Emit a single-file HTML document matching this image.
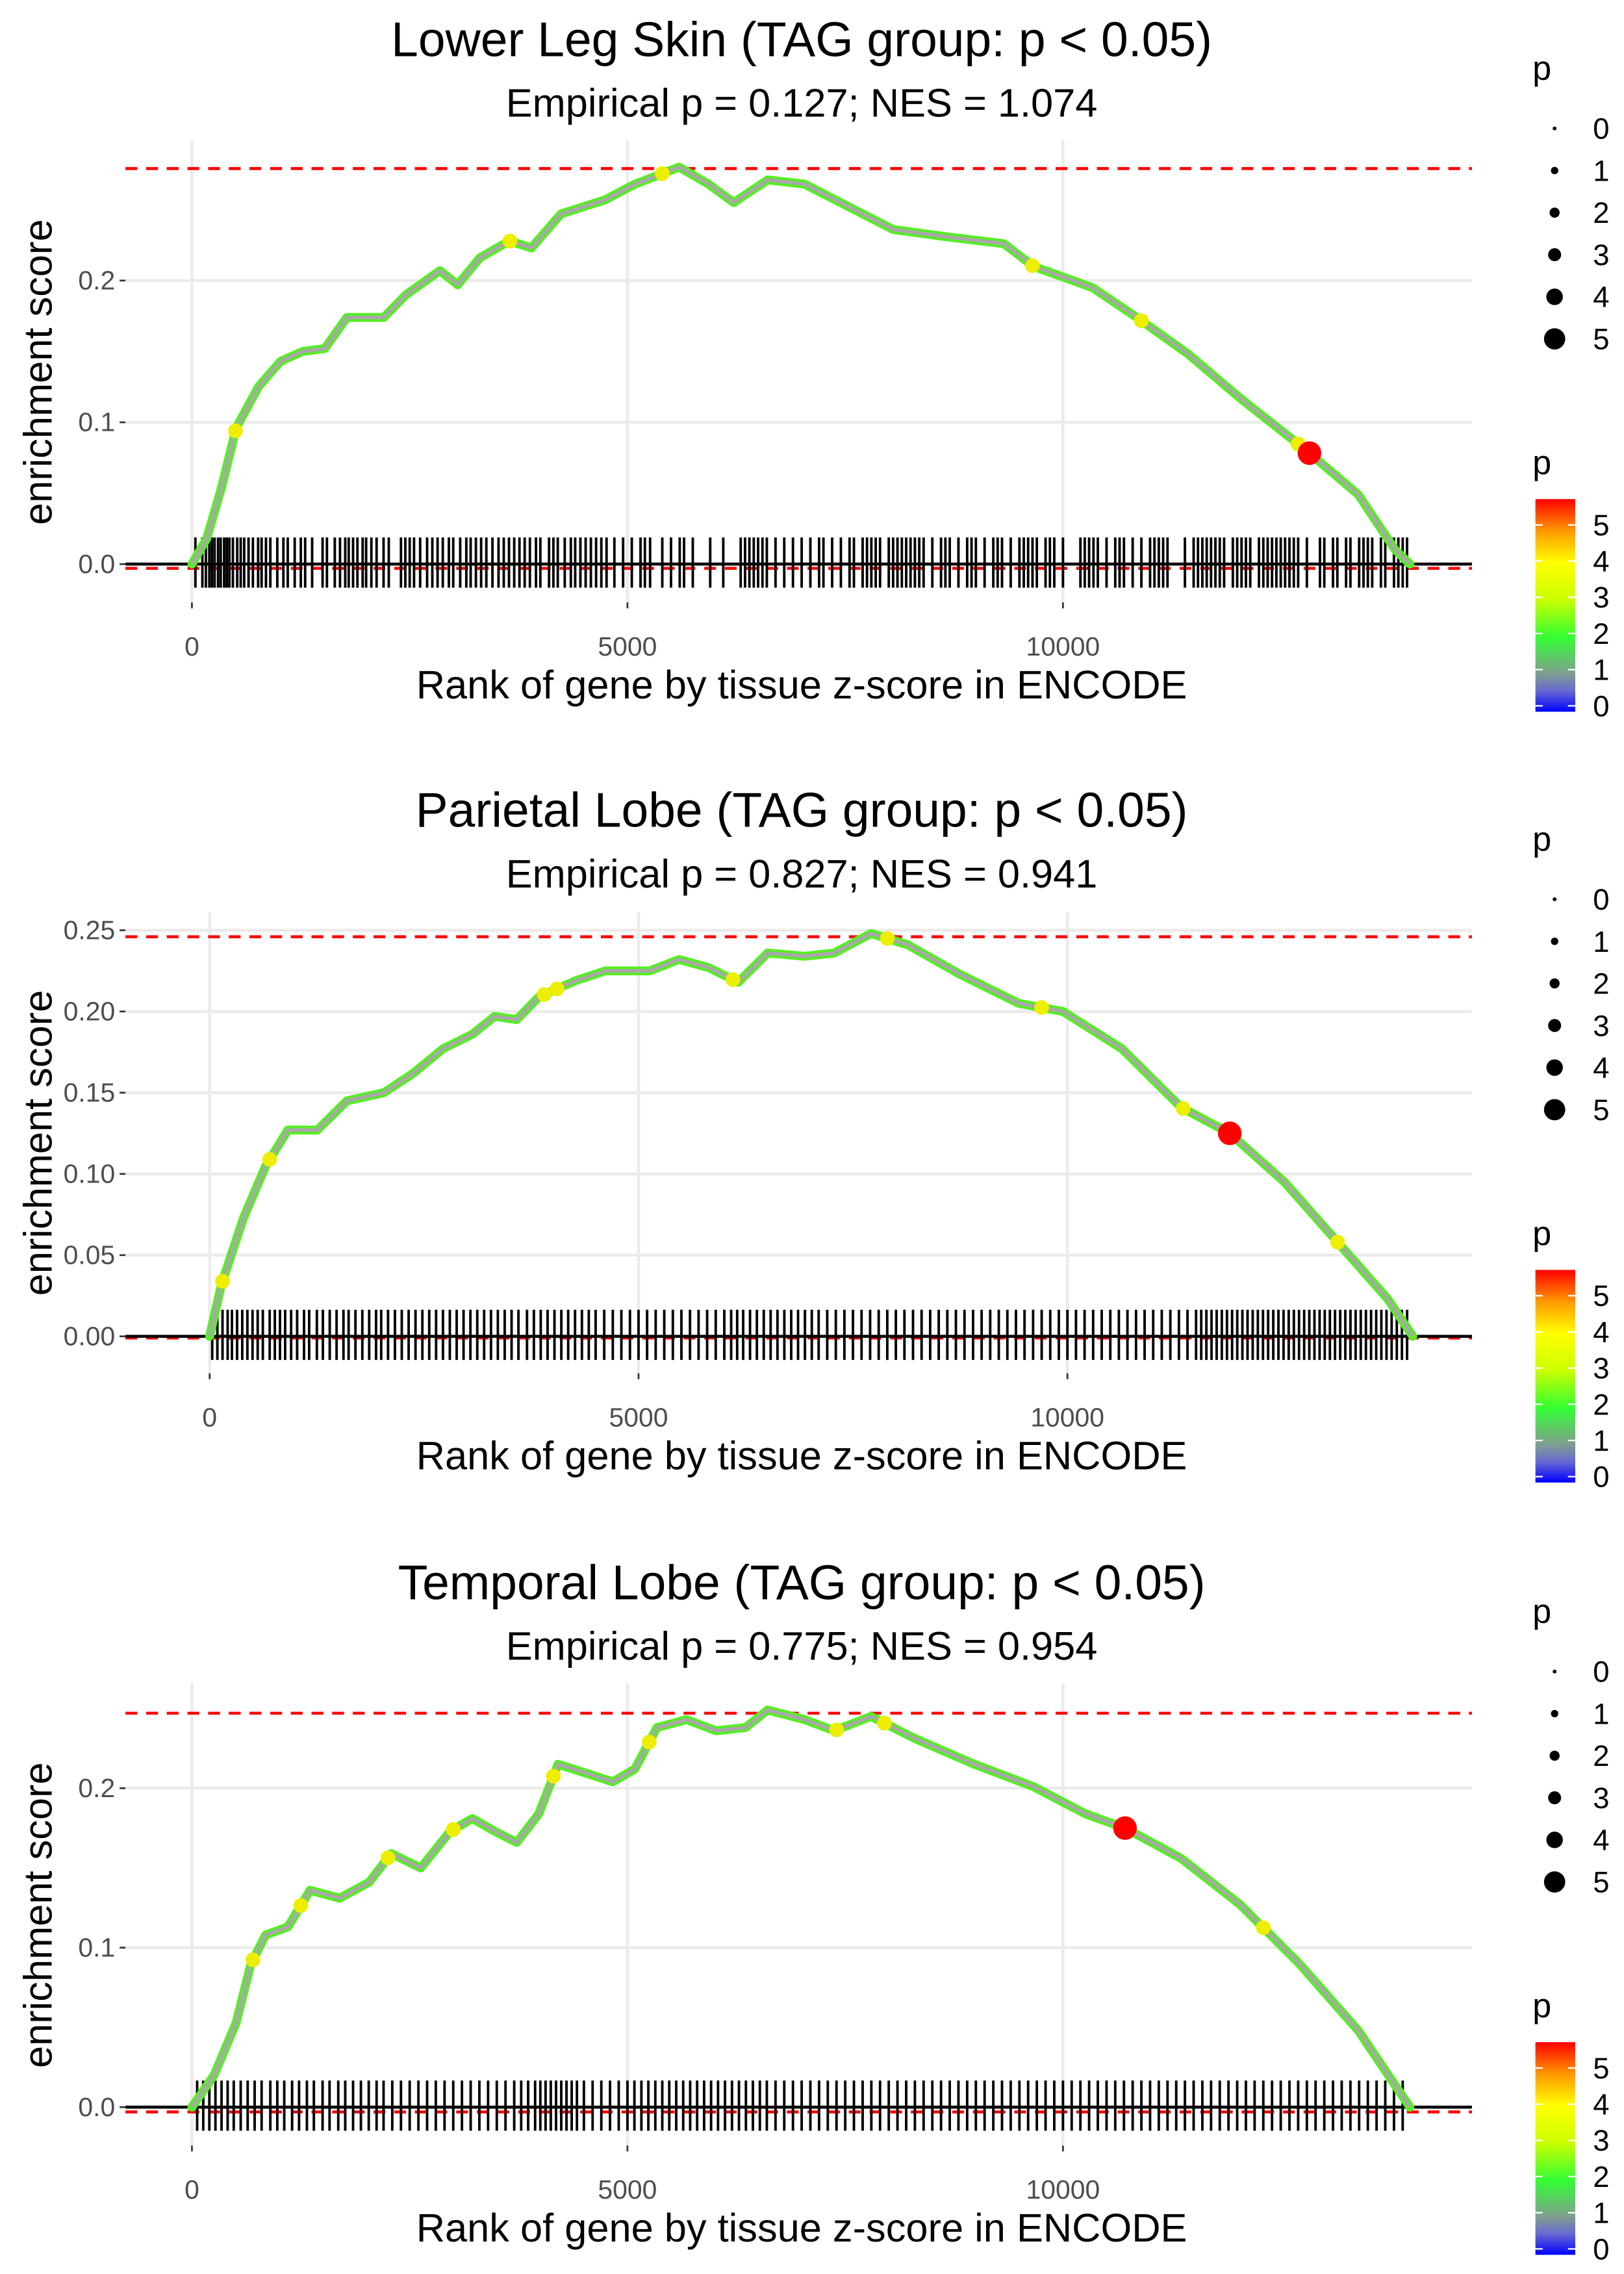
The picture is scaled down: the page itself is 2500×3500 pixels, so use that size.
<!DOCTYPE html>
<html><head><meta charset="utf-8">
<style>
html,body{margin:0;padding:0;background:#fff;}
svg{display:block;}
text{font-family:"Liberation Sans",Arial,sans-serif;}
</style></head>
<body>
<svg id="root" width="2500" height="3500" viewBox="0 0 1100 1540" xmlns="http://www.w3.org/2000/svg">
<defs>
<linearGradient id="pgrad" x1="0" y1="1" x2="0" y2="0">
<stop offset="0" stop-color="#0000ff"/>
<stop offset="0.1" stop-color="#6a6ad0"/>
<stop offset="0.18" stop-color="#7f9f8f"/>
<stop offset="0.35" stop-color="#33ff33"/>
<stop offset="0.53" stop-color="#ccff00"/>
<stop offset="0.7" stop-color="#ffff00"/>
<stop offset="0.85" stop-color="#ff9900"/>
<stop offset="1" stop-color="#ff0000"/>
</linearGradient>
</defs>
</svg>
<script>
// ---- data ----
const titles = ["Lower Leg Skin (TAG group: p < 0.05)","Parietal Lobe (TAG group: p < 0.05)","Temporal Lobe (TAG group: p < 0.05)"];
const subtitles = ["Empirical p = 0.127; NES = 1.074","Empirical p = 0.827; NES = 0.941","Empirical p = 0.775; NES = 0.954"];
const ranks1 = [0,170,340,508,763,1017,1271,1525,1780,2203,2458,2847,3051,3305,3644,3898,4237,4746,5085,5593,5932,6220,6610,7034,7542,8051,8644,9322,9661,10339,10847,11441,12034,12797,13390,13814,13983];
const es1 = [0,0.018,0.054,0.096,0.125,0.143,0.150,0.152,0.174,0.174,0.190,0.207,0.197,0.216,0.228,0.223,0.247,0.257,0.268,0.280,0.268,0.255,0.271,0.268,0.252,0.236,0.231,0.226,0.210,0.195,0.174,0.148,0.117,0.080,0.049,0.010,0];
const ranks2 = [0,138,396,654,912,1256,1601,2031,2375,2719,3064,3322,3580,3838,4269,4613,5129,5473,5818,6162,6506,6936,7281,7711,8141,8744,9432,9948,10637,11325,11893,12530,13133,13735,14027];
const es2 = [0,0.032,0.073,0.105,0.127,0.127,0.145,0.150,0.162,0.177,0.186,0.197,0.195,0.209,0.219,0.225,0.225,0.232,0.227,0.218,0.236,0.234,0.236,0.248,0.241,0.223,0.205,0.200,0.177,0.141,0.125,0.095,0.059,0.023,0];
const ranks3 = [0,254,508,678,847,1102,1356,1695,2034,2288,2627,2966,3220,3475,3729,3983,4203,4492,4831,5085,5339,5678,6017,6356,6610,7034,7373,7797,8305,8983,9661,10254,10712,11356,12034,12712,13390,13983];
const es3 = [0,0.020,0.053,0.090,0.108,0.113,0.136,0.131,0.141,0.159,0.150,0.173,0.181,0.173,0.166,0.184,0.215,0.210,0.204,0.212,0.238,0.243,0.236,0.238,0.249,0.243,0.236,0.245,0.231,0.215,0.201,0.184,0.175,0.156,0.127,0.090,0.048,0];
const hits1 = [40,120,160,200,230,260,300,330,370,400,430,470,520,560,600,650,700,760,800,850,900,980,1050,1100,1180,1250,1300,1380,1500,1550,1640,1700,1760,1800,1850,1900,1960,2000,2060,2120,2200,2260,2400,2450,2500,2550,2620,2700,2760,2820,2880,2950,3000,3080,3150,3200,3260,3320,3380,3450,3520,3580,3640,3700,3760,3820,3880,3950,4000,4100,4150,4200,4280,4350,4400,4460,4520,4580,4640,4700,4760,4850,4950,5050,5150,5200,5260,5400,5500,5600,5650,5750,5950,6100,6300,6350,6400,6450,6500,6550,6600,6700,6800,6900,7000,7100,7200,7250,7350,7450,7550,7600,7700,7750,7800,7850,7900,8000,8050,8100,8150,8200,8250,8300,8350,8400,8500,8600,8650,8700,8800,8900,8950,9000,9100,9200,9250,9300,9400,9500,9550,9600,9650,9700,9800,9850,9900,10000,10200,10250,10300,10350,10400,10500,10600,10650,10700,10800,10900,11000,11050,11100,11150,11200,11400,11500,11550,11600,11650,11700,11750,11800,11850,11950,12000,12050,12100,12150,12250,12300,12350,12400,12450,12500,12550,12600,12650,12700,12800,12950,13000,13100,13150,13250,13300,13400,13450,13500,13550,13650,13700,13800,13850,13900,13950];
const hits2 = [30,90,150,210,260,320,380,440,500,560,620,700,760,820,880,950,1020,1100,1160,1250,1320,1400,1480,1560,1620,1700,1780,1860,1940,2000,2080,2160,2240,2320,2400,2480,2560,2640,2720,2800,2880,2960,3040,3120,3200,3280,3360,3440,3520,3600,3700,3780,3860,3940,4020,4100,4180,4260,4340,4420,4500,4600,4700,4800,4900,5000,5100,5200,5300,5400,5500,5600,5700,5800,5900,6000,6080,6150,6220,6300,6380,6460,6540,6620,6700,6780,6860,6940,7020,7100,7200,7300,7400,7500,7600,7700,7800,7900,8000,8100,8200,8300,8400,8500,8600,8700,8800,8900,9000,9100,9200,9300,9400,9500,9600,9700,9800,9900,10000,10100,10200,10300,10400,10500,10600,10700,10800,10900,11000,11100,11200,11300,11400,11500,11560,11620,11680,11740,11800,11860,11920,11980,12040,12100,12160,12220,12280,12340,12400,12460,12520,12580,12640,12700,12760,12820,12880,12940,13000,13060,13120,13180,13240,13300,13360,13420,13480,13540,13600,13660,13720,13780,13840,13900,13960];
const hits3 = [60,130,200,270,340,410,480,560,640,720,800,900,980,1060,1150,1230,1320,1400,1500,1580,1680,1760,1850,1940,2030,2120,2200,2300,2400,2500,2600,2700,2800,2900,3000,3100,3200,3300,3400,3500,3600,3700,3780,3860,3940,4000,4060,4120,4180,4240,4300,4360,4420,4500,4600,4700,4800,4900,5000,5080,5160,5240,5320,5400,5480,5560,5640,5720,5800,5880,5960,6040,6120,6200,6280,6360,6440,6520,6600,6700,6800,6900,7000,7100,7200,7300,7400,7500,7600,7700,7800,7900,8000,8100,8200,8300,8400,8500,8600,8700,8800,8900,9000,9100,9200,9300,9400,9500,9600,9700,9800,9900,10000,10100,10200,10300,10400,10500,10600,10700,10800,10900,11000,11100,11200,11300,11400,11500,11600,11700,11800,11900,12000,12100,12200,12300,12400,12500,12600,12700,12800,12900,13000,13100,13200,13300,13400,13500,13600,13700,13800,13900];
const yellow1 = [500,3650,5400,9650,10900,12700];
const yellow2 = [150,700,3900,4050,6100,7900,9700,11350,13150];
const yellow3 = [700,1250,2250,3000,4150,5250,7400,7950,12300];
const red1 = [12830], red2 = [11893], red3 = [10712];
const maxes = [0.279,0.246,0.247];
const mins = [-0.003,-0.001,-0.003];
const yTicks = [[0,0.1,0.2],[0,0.05,0.1,0.15,0.2,0.25],[0,0.1,0.2]];
const yTickLabels = [["0.0","0.1","0.2"],["0.00","0.05","0.10","0.15","0.20","0.25"],["0.0","0.1","0.2"]];
const xTicks = [0,5000,10000];
const legendLabels = ["0","1","2","3","4","5"];

// ---- layout (display units; viewBox 1100x1540) ----
const layouts = [
 {off:0,   x0:130, xPer:295/5000,   y0:382, yPer:960,  top:95,  bot:408},
 {off:522, x0:142, xPer:290.5/5000, y0:383, yPer:1100, top:96,  bot:408},
 {off:1045,x0:130, xPer:295/5000,   y0:382, yPer:1080, top:95,  bot:408}
];
const ranksAll=[ranks1,ranks2,ranks3], esAll=[es1,es2,es3], hitsAll=[hits1,hits2,hits3];
const yelAll=[yellow1,yellow2,yellow3], redAll=[red1,red2,red3];
const NS="http://www.w3.org/2000/svg";
const root=document.getElementById('root');
function mk(tag,attrs,parent){const e=document.createElementNS(NS,tag);for(const k in attrs)e.setAttribute(k,attrs[k]);(parent||root).appendChild(e);return e;}
function interp(rs,es,r){for(let i=1;i<rs.length;i++){if(r<=rs[i]){const t=(r-rs[i-1])/(rs[i]-rs[i-1]);return es[i-1]+t*(es[i]-es[i-1]);}}return es[es.length-1];}

layouts.forEach((L,p)=>{
  const g=mk('g',{transform:`translate(0,${L.off})`});
  
  
  const xs=r=>L.x0+r*L.xPer;
  const ys=v=>L.y0-v*L.yPer;
  const L0=85,R0=997;
  xTicks.forEach(t=>{const l=mk('line',{x1:xs(t),x2:xs(t),y1:L.top,y2:L.bot,stroke:'#ebebeb','stroke-width':2},g);
    });
  yTicks[p].forEach((t,i)=>{const l=mk('line',{x1:L0,x2:R0,y1:ys(t),y2:ys(t),stroke:'#ebebeb','stroke-width':2},g);
    
    const tk=mk('line',{x1:L0-4,x2:L0,y1:ys(t),y2:ys(t),stroke:'#333','stroke-width':1.2},g);
    
    const tx=mk('text',{x:L0-7,y:ys(t)+6,'text-anchor':'end','font-size':18,fill:'#4d4d4d'},g);tx.textContent=yTickLabels[p][i];
    });
  xTicks.forEach(t=>{const tk=mk('line',{x1:xs(t),x2:xs(t),y1:L.bot,y2:L.bot+4,stroke:'#333','stroke-width':1.2},g);
    
    const tx=mk('text',{x:xs(t),y:L.bot+36,'text-anchor':'middle','font-size':18,fill:'#4d4d4d'},g);tx.textContent=String(t);
    });
  [maxes[p],mins[p]].forEach((v,i)=>{const l=mk('line',{x1:L0,x2:R0,y1:ys(v),y2:ys(v),stroke:'#ff0000','stroke-width':2,'stroke-dasharray':'8 6'},g);
    });
  hitsAll[p].forEach(r=>{const l=mk('line',{x1:xs(r),x2:xs(r),y1:L.y0-18,y2:L.y0+16,stroke:'#000','stroke-width':1.7},g);
    });
  const zl=mk('line',{x1:L0,x2:R0,y1:ys(0),y2:ys(0),stroke:'#000','stroke-width':2},g);
  
  const pts=ranksAll[p].map((r,i)=>xs(r)+','+ys(esAll[p][i])).join(' ');
  const c1=mk('polyline',{points:pts,fill:'none',stroke:'#55ee22','stroke-width':6,'stroke-linejoin':'round','stroke-linecap':'round'},g);
  
  const c2=mk('polyline',{points:pts,fill:'none',stroke:'#a8a8a8','stroke-width':2.5,'stroke-linejoin':'round'},g);
  
  yelAll[p].forEach(r=>{const c=mk('circle',{cx:xs(r),cy:ys(interp(ranksAll[p],esAll[p],r)),r:5,fill:'#eeee00'},g);
    });
  redAll[p].forEach(r=>{const c=mk('circle',{cx:xs(r),cy:ys(interp(ranksAll[p],esAll[p],r)),r:8,fill:'#ff0000'},g);
    });
  const t=mk('text',{x:543,y:38,'text-anchor':'middle','font-size':33,fill:'#000'},g);t.textContent=titles[p];
  
  const s=mk('text',{x:543,y:79,'text-anchor':'middle','font-size':27,fill:'#000'},g);s.textContent=subtitles[p];
  
  const xt=mk('text',{x:543,y:473,'text-anchor':'middle','font-size':27,fill:'#000'},g);xt.textContent='Rank of gene by tissue z-score in ENCODE';
  
  const yt=mk('text',{x:0,y:0,'text-anchor':'middle','font-size':27,fill:'#000',transform:`translate(35,252) rotate(-90)`},g);yt.textContent='enrichment score';
  
  const pl=mk('text',{x:1038,y:54,'font-size':23,fill:'#000'},g);pl.textContent='p';
  
  const rads=[1.3,2.5,3.4,4.4,5.6,7.2];
  legendLabels.forEach((lb,i)=>{const y=87+i*28.5;
    const c=mk('circle',{cx:1053,cy:y,r:rads[i],fill:'#000'},g);
    
    const tx=mk('text',{x:1079,y:y+7,'font-size':20,fill:'#000'},g);tx.textContent=lb;
    });
  const pc=mk('text',{x:1038,y:321,'font-size':23,fill:'#000'},g);pc.textContent='p';
  
  const bar=mk('rect',{x:1040,y:338,width:27,height:144,fill:'url(#pgrad)'},g);
  
  legendLabels.forEach((lb,i)=>{const y=478-i*24.5;
    mk('line',{x1:1040,x2:1045,y1:y,y2:y,stroke:'#fff','stroke-width':1},g);
    mk('line',{x1:1062,x2:1067,y1:y,y2:y,stroke:'#fff','stroke-width':1},g);
    const tx=mk('text',{x:1079,y:y+7,'font-size':20,fill:'#000'},g);tx.textContent=lb;
    });
});
</script>
</body></html>
